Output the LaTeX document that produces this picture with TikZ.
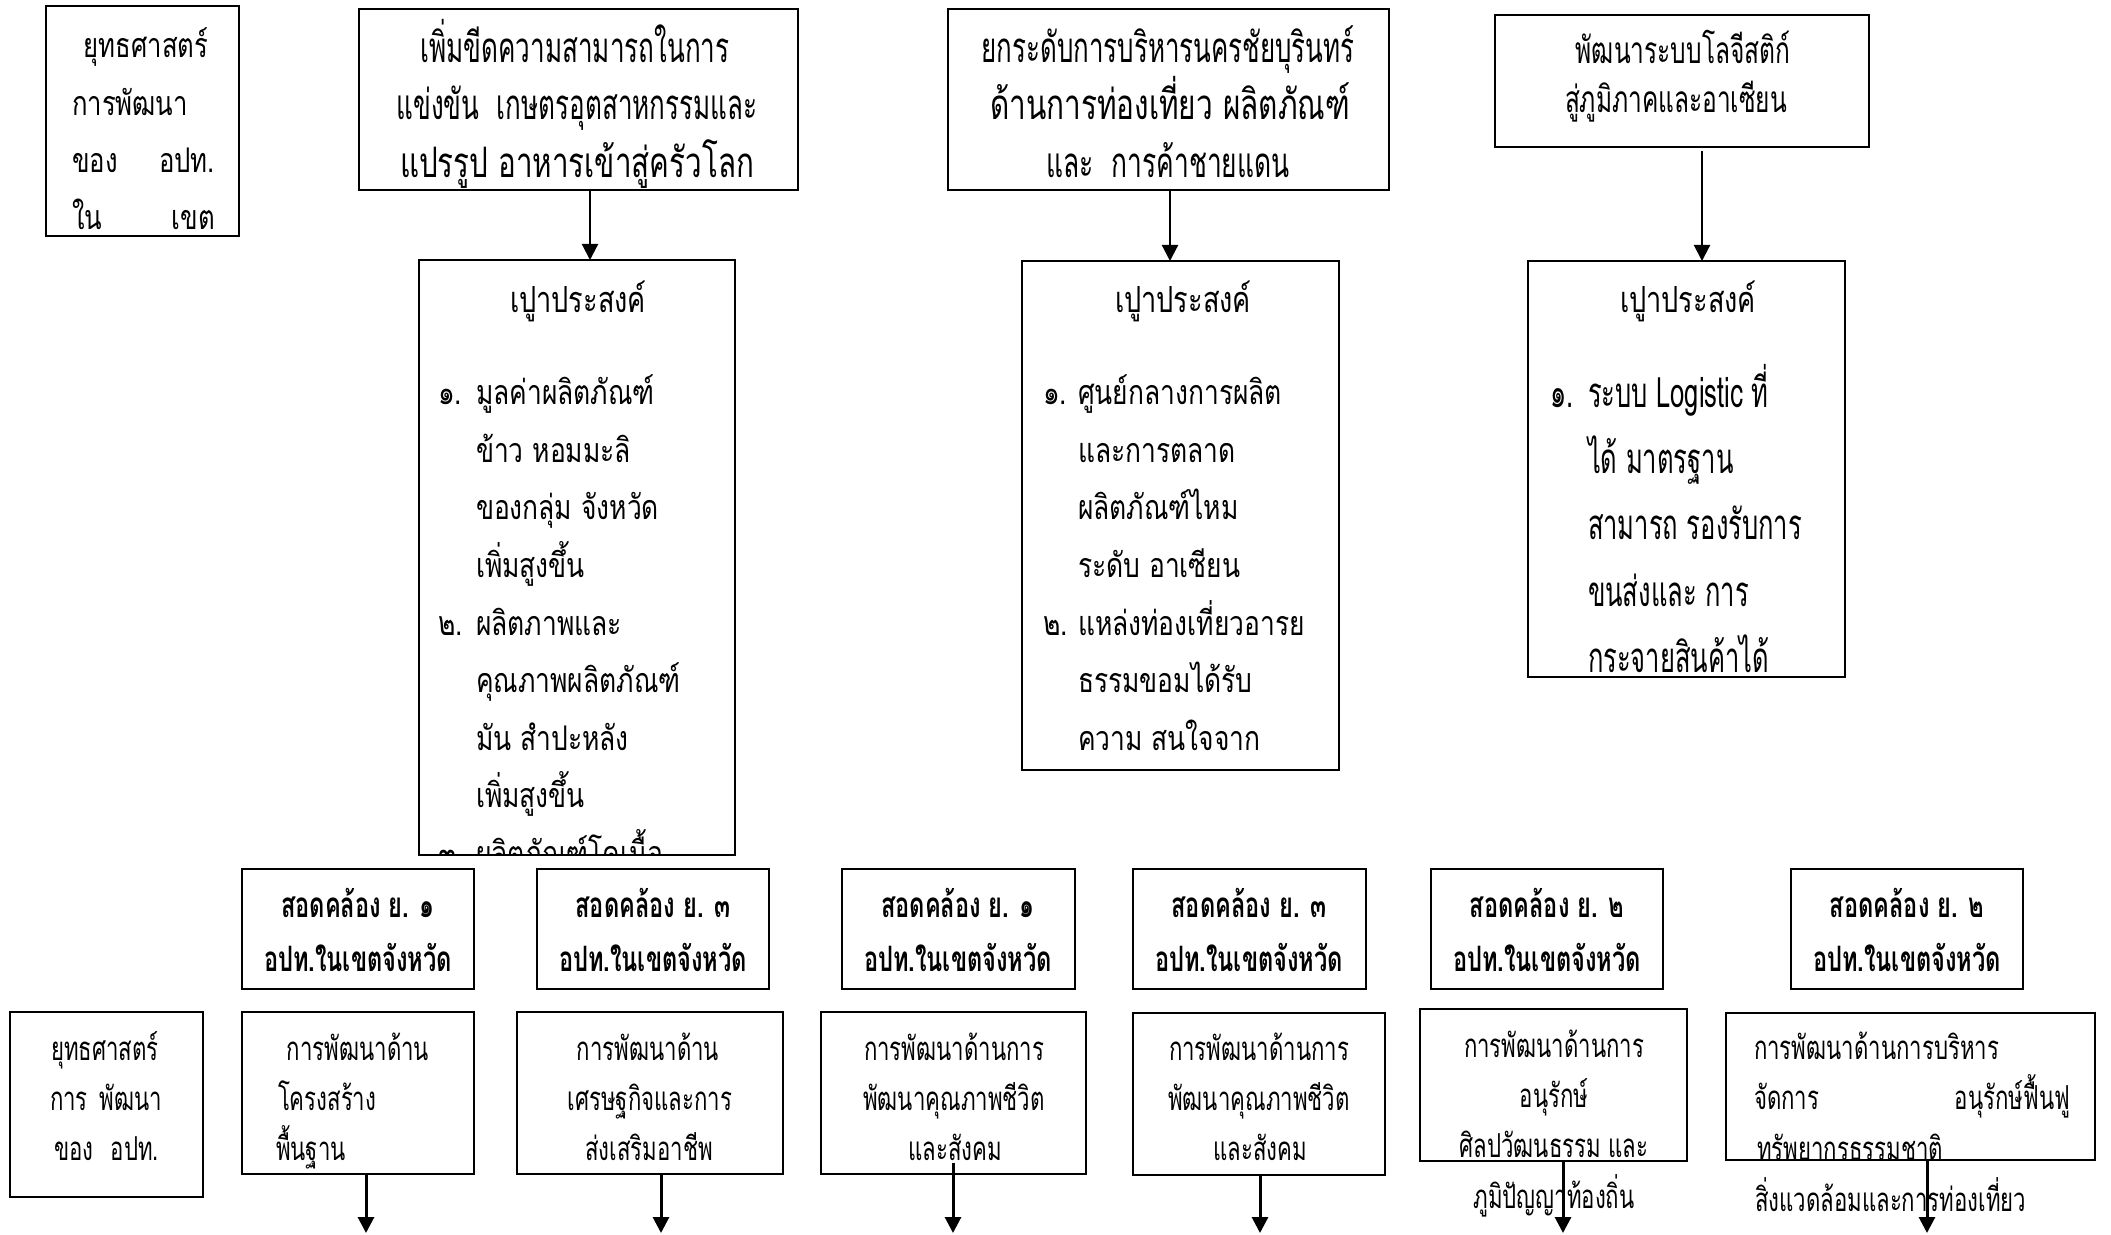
\documentclass[tikz,border=0pt]{standalone}
\usepackage{fontspec}
\usepackage{graphicx}
\usetikzlibrary{arrows.meta}
\newfontfamily\thai[Script=Thai]{Loma}
\newcommand\fA{\fontsize{17}{20}\thai}
\newcommand\fB{\fontsize{21}{24}\thai}
\newcommand\fD{\fontsize{18.5}{21}\thai}
\newcommand\fT{\fontsize{18}{21}\thai}
\newcommand\fO{\fontsize{17}{20}\thai}
\newcommand\fQ{\fontsize{21}{24}\thai}
\newcommand\fS{\fontsize{17.5}{20}\thai\bfseries}
\newcommand\fP{\fontsize{16.5}{19}\thai}
\newlength\calw
\newcommand\calib[4]{\settowidth\calw{#2#3}\pgfmathsetmacro#1{0.5*#4/\calw}\global\let#1#1}
\newcommand\hs[2]{\scalebox{#1}[1]{#2}}
\newcommand\fw[2]{\resizebox{#1pt}{\height}{#2}}
\newcommand\bx[5]{\node[box,minimum width={(#4-#2)*0.5pt},minimum height={(#5-#3)*0.5pt}] (#1) at ({(#2+#4)/2},{(#3+#5)/2}) {};}
\tikzset{
  box/.style={draw, line width=1pt, inner sep=0pt, outer sep=0pt},
  txt/.style={inner sep=0pt, outer sep=0pt, anchor=base},
  txtl/.style={inner sep=0pt, outer sep=0pt, anchor=base west},
  txtr/.style={inner sep=0pt, outer sep=0pt, anchor=base east},
  arr/.style={-{Triangle[width=8pt,length=8pt]}, line width=1.1pt},
  arrb/.style={arr, line width=1.5pt}
}
\begin{document}
\calib{\kA}{\fA}{การพัฒนา}{116}%
\calib{\kD}{\fD}{สู่ภูมิภาคและอาเซียน}{222}%
\calib{\kT}{\fT}{เปูาประสงค์}{136}%
\calib{\kO}{\fO}{ศูนย์กลางการผลิต}{204}%
\calib{\kQ}{\fQ}{สามารถ รองรับการ}{214}%
\calib{\kS}{\fS}{อปท.ในเขตจังหวัด}{188}%
\calib{\kP}{\fP}{การพัฒนาด้านการ}{180}%
\begin{tikzpicture}[x=0.5pt,y=-0.5pt]
\fill[white] (0,0) rectangle (2111,1235);
\useasboundingbox (0,0) rectangle (2111,1235);

% ---------- boxes ----------
\bx{A}{46}{6}{239}{236}
\bx{B}{359}{9}{798}{190}
\bx{C}{948}{9}{1389}{190}
\bx{D}{1495}{15}{1869}{147}
\bx{O1}{419}{260}{735}{855}
\bx{O2}{1022}{261}{1339}{770}
\bx{O3}{1528}{261}{1845}{677}
\bx{S1}{242}{869}{474}{989}
\bx{S2}{537}{869}{769}{989}
\bx{S3}{842}{869}{1075}{989}
\bx{S4}{1133}{869}{1366}{989}
\bx{S5}{1431}{869}{1663}{989}
\bx{S6}{1791}{869}{2023}{989}
\bx{L}{10}{1012}{203}{1197}
\bx{P1}{242}{1012}{474}{1174}
\bx{P2}{517}{1012}{783}{1174}
\bx{P3}{821}{1012}{1086}{1174}
\bx{P4}{1133}{1013}{1385}{1175}
\bx{P5}{1420}{1009}{1687}{1161}
\bx{P6}{1726}{1013}{2095}{1160}

% ---------- box A ----------
\node[txt,font=\fA] (a1) at (146,58) {\hs{\kA}{ยุทธศาสตร์}};
\node[txtl,font=\fA] (a2) at (72,116) {\hs{\kA}{การพัฒนา}};
\node[txtl,font=\fA] (a3) at (72,173) {\hs{\kA}{ของ}};
\node[txtr,font=\fA] (a4) at (215,173) {\hs{\kA}{อปท.}};
\node[txtl,font=\fA] (a5) at (72,230) {\hs{\kA}{ใน}};
\node[txtr,font=\fA] (a6) at (215,230) {\hs{\kA}{เขต}};

% ---------- boxes B, C, D ----------
\node[txt,font=\fB] (b1) at (575,63) {\fw{154.5}{เพิ่มขีดความสามารถในการ}};
\node[txt,font=\fB] (b2) at (577,120) {\fw{180.5}{แข่งขัน~ เกษตรอุตสาหกรรมและ}};
\node[txt,font=\fB] (b3) at (577,178) {\fw{177}{แปรรูป อาหารเข้าสู่ครัวโลก}};
\node[txt,font=\fB] (c1) at (1168,63) {\fw{186.5}{ยกระดับการบริหารนครชัยบุรินทร์}};
\node[txt,font=\fB] (c2) at (1170,120) {\fw{180}{ด้านการท่องเที่ยว ผลิตภัณฑ์}};
\node[txt,font=\fB] (c3) at (1168,178) {\fw{121.5}{และ~ การค้าชายแดน}};
\node[txt,font=\fD] (d1) at (1683,64) {\hs{\kD}{พัฒนาระบบโลจีสติก์}};
\node[txt,font=\fD] (d2) at (1676,113) {\hs{\kD}{สู่ภูมิภาคและอาเซียน}};

% ---------- objective boxes ----------
\node[txt,font=\fT] (t1) at (578,313) {\hs{\kT}{เปูาประสงค์}};
\node[txt,font=\fT] (t2) at (1183,313) {\hs{\kT}{เปูาประสงค์}};
\node[txt,font=\fT] (t3) at (1688,313) {\hs{\kT}{เปูาประสงค์}};

\begin{scope}
\clip (O1.north west) rectangle (O1.south east);
\node[txtl,font=\fO] (o1n1) at (438,405) {\hs{\kO}{๑.}};
\node[txtl,font=\fO] (o1l1) at (476,405) {\hs{\kO}{มูลค่าผลิตภัณฑ์}};
\node[txtl,font=\fO] (o1l2) at (476,462.5) {\hs{\kO}{ข้าว หอมมะลิ}};
\node[txtl,font=\fO] (o1l3) at (476,520) {\hs{\kO}{ของกลุ่ม จังหวัด}};
\node[txtl,font=\fO] (o1l4) at (476,577.5) {\hs{\kO}{เพิ่มสูงขึ้น}};
\node[txtl,font=\fO] (o1n2) at (438,635) {\hs{\kO}{๒.}};
\node[txtl,font=\fO] (o1l5) at (476,635) {\hs{\kO}{ผลิตภาพและ}};
\node[txtl,font=\fO] (o1l6) at (476,692.5) {\hs{\kO}{คุณภาพผลิตภัณฑ์}};
\node[txtl,font=\fO] (o1l7) at (476,750) {\hs{\kO}{มัน สำปะหลัง}};
\node[txtl,font=\fO] (o1l8) at (476,807.5) {\hs{\kO}{เพิ่มสูงขึ้น}};
\node[txtl,font=\fO] (o1n3) at (438,865) {\hs{\kO}{๓.}};
\node[txtl,font=\fO] (o1l9) at (476,865) {\hs{\kO}{ผลิตภัณฑ์โคเนื้อ}};
\end{scope}

\node[txtl,font=\fO] (o2n1) at (1043,405) {\hs{\kO}{๑.}};
\node[txtl,font=\fO] (o2l1) at (1078,405) {\hs{\kO}{ศูนย์กลางการผลิต}};
\node[txtl,font=\fO] (o2l2) at (1078,462.5) {\hs{\kO}{และการตลาด}};
\node[txtl,font=\fO] (o2l3) at (1078,520) {\hs{\kO}{ผลิตภัณฑ์ไหม}};
\node[txtl,font=\fO] (o2l4) at (1078,577.5) {\hs{\kO}{ระดับ อาเซียน}};
\node[txtl,font=\fO] (o2n2) at (1043,635) {\hs{\kO}{๒.}};
\node[txtl,font=\fO] (o2l5) at (1078,635) {\hs{\kO}{แหล่งท่องเที่ยวอารย}};
\node[txtl,font=\fO] (o2l6) at (1078,692.5) {\hs{\kO}{ธรรมขอมได้รับ}};
\node[txtl,font=\fO] (o2l7) at (1078,750) {\hs{\kO}{ความ สนใจจาก}};

\node[txtl,font=\fQ] (o3n1) at (1550,408) {\hs{\kQ}{๑.}};
\node[txtl,font=\fQ] (o3l1) at (1588,408) {\hs{\kQ}{ระบบ Logistic ที่}};
\node[txtl,font=\fQ] (o3l2) at (1588,474) {\hs{\kQ}{ได้ มาตรฐาน}};
\node[txtl,font=\fQ] (o3l3) at (1588,540) {\hs{\kQ}{สามารถ รองรับการ}};
\node[txtl,font=\fQ] (o3l4) at (1588,606) {\hs{\kQ}{ขนส่งและ การ}};
\node[txtl,font=\fQ] (o3l5) at (1588,672) {\hs{\kQ}{กระจายสินค้าได้}};

% ---------- alignment boxes ----------
\node[txt,font=\fS] (s1a) at (358,917) {\hs{\kS}{สอดคล้อง ย. ๑}};
\node[txt,font=\fS] (s1b) at (358,971) {\hs{\kS}{อปท.ในเขตจังหวัด}};
\node[txt,font=\fS] (s2a) at (653,917) {\hs{\kS}{สอดคล้อง ย. ๓}};
\node[txt,font=\fS] (s2b) at (653,971) {\hs{\kS}{อปท.ในเขตจังหวัด}};
\node[txt,font=\fS] (s3a) at (958,917) {\hs{\kS}{สอดคล้อง ย. ๑}};
\node[txt,font=\fS] (s3b) at (958,971) {\hs{\kS}{อปท.ในเขตจังหวัด}};
\node[txt,font=\fS] (s4a) at (1249,917) {\hs{\kS}{สอดคล้อง ย. ๓}};
\node[txt,font=\fS] (s4b) at (1249,971) {\hs{\kS}{อปท.ในเขตจังหวัด}};
\node[txt,font=\fS] (s5a) at (1547,917) {\hs{\kS}{สอดคล้อง ย. ๒}};
\node[txt,font=\fS] (s5b) at (1547,971) {\hs{\kS}{อปท.ในเขตจังหวัด}};
\node[txt,font=\fS] (s6a) at (1907,917) {\hs{\kS}{สอดคล้อง ย. ๒}};
\node[txt,font=\fS] (s6b) at (1907,971) {\hs{\kS}{อปท.ในเขตจังหวัด}};

% ---------- bottom row ----------
\node[txt,font=\fP] (l1) at (105,1060) {\hs{\kP}{ยุทธศาสตร์}};
\node[txtl,font=\fP] (l2) at (50,1110) {\hs{\kP}{การ}};
\node[txtr,font=\fP] (l3) at (162,1110) {\hs{\kP}{พัฒนา}};
\node[txtl,font=\fP] (l4) at (54,1160) {\hs{\kP}{ของ}};
\node[txtr,font=\fP] (l5) at (159,1160) {\hs{\kP}{อปท.}};

\node[txt,font=\fP] (p1a) at (358,1060) {\hs{\kP}{การพัฒนาด้าน}};
\node[txtl,font=\fP] (p1b) at (278,1110) {\hs{\kP}{โครงสร้าง}};
\node[txtl,font=\fP] (p1c) at (276,1160) {\hs{\kP}{พื้นฐาน}};

\node[txt,font=\fP] (p2a) at (648,1060) {\hs{\kP}{การพัฒนาด้าน}};
\node[txt,font=\fP] (p2b) at (650,1110) {\hs{\kP}{เศรษฐกิจและการ}};
\node[txt,font=\fP] (p2c) at (649,1160) {\hs{\kP}{ส่งเสริมอาชีพ}};

\node[txt,font=\fP] (p3a) at (954,1060) {\hs{\kP}{การพัฒนาด้านการ}};
\node[txt,font=\fP] (p3b) at (954,1110) {\hs{\kP}{พัฒนาคุณภาพชีวิต}};
\node[txt,font=\fP] (p3c) at (955,1160) {\hs{\kP}{และสังคม}};

\node[txt,font=\fP] (p4a) at (1259,1060) {\hs{\kP}{การพัฒนาด้านการ}};
\node[txt,font=\fP] (p4b) at (1259,1110) {\hs{\kP}{พัฒนาคุณภาพชีวิต}};
\node[txt,font=\fP] (p4c) at (1260,1160) {\hs{\kP}{และสังคม}};

\node[txt,font=\fP] (p5a) at (1554,1057) {\hs{\kP}{การพัฒนาด้านการ}};
\node[txt,font=\fP] (p5b) at (1554,1107) {\hs{\kP}{อนุรักษ์}};
\node[txt,font=\fP] (p5c) at (1554,1157) {\hs{\kP}{ศิลปวัฒนธรรม และ}};
\node[txt,font=\fP] (p5d) at (1554,1208) {\hs{\kP}{ภูมิปัญญาท้องถิ่น}};

\node[txtl,font=\fP] (p6a) at (1754,1059) {\hs{\kP}{การพัฒนาด้านการบริหาร}};
\node[txtl,font=\fP] (p6b) at (1754,1109) {\hs{\kP}{จัดการ}};
\node[txtr,font=\fP] (p6c) at (2070,1109) {\hs{\kP}{อนุรักษ์ฟื้นฟู}};
\node[txtl,font=\fP] (p6d) at (1757,1160) {\hs{\kP}{ทรัพยากรธรรมชาติ}};
\node[txtl,font=\fP] (p6e) at (1755,1211) {\hs{\kP}{สิ่งแวดล้อมและการท่องเที่ยว}};

% ---------- connectors ----------
\coordinate (xa) at (590,0);
\coordinate (xb) at (1170,0);
\coordinate (xc) at (1702,0);
\draw[arr] (B.south -| xa) -- (O1.north -| xa);
\draw[arr] (C.south -| xb) -- (O2.north -| xb);
\draw[arr] ([yshift=-2pt]D.south -| xc) -- (O3.north -| xc);

\coordinate (e1) at (366,1233);
\coordinate (e2) at (661,1233);
\coordinate (e3) at (953,1233);
\coordinate (s3) at (953,1163);
\coordinate (e4) at (1260,1233);
\coordinate (e5) at (1563,1233);
\coordinate (e6) at (1927,1233);
\draw[arrb] (P1.south -| e1) -- (e1);
\draw[arrb] (P2.south -| e2) -- (e2);
\draw[arrb] (s3) -- (e3);
\draw[arrb] (P4.south -| e4) -- (e4);
\draw[arrb] (P5.south -| e5) -- (e5);
\draw[arrb] (P6.south -| e6) -- (e6);
\end{tikzpicture}
\end{document}
